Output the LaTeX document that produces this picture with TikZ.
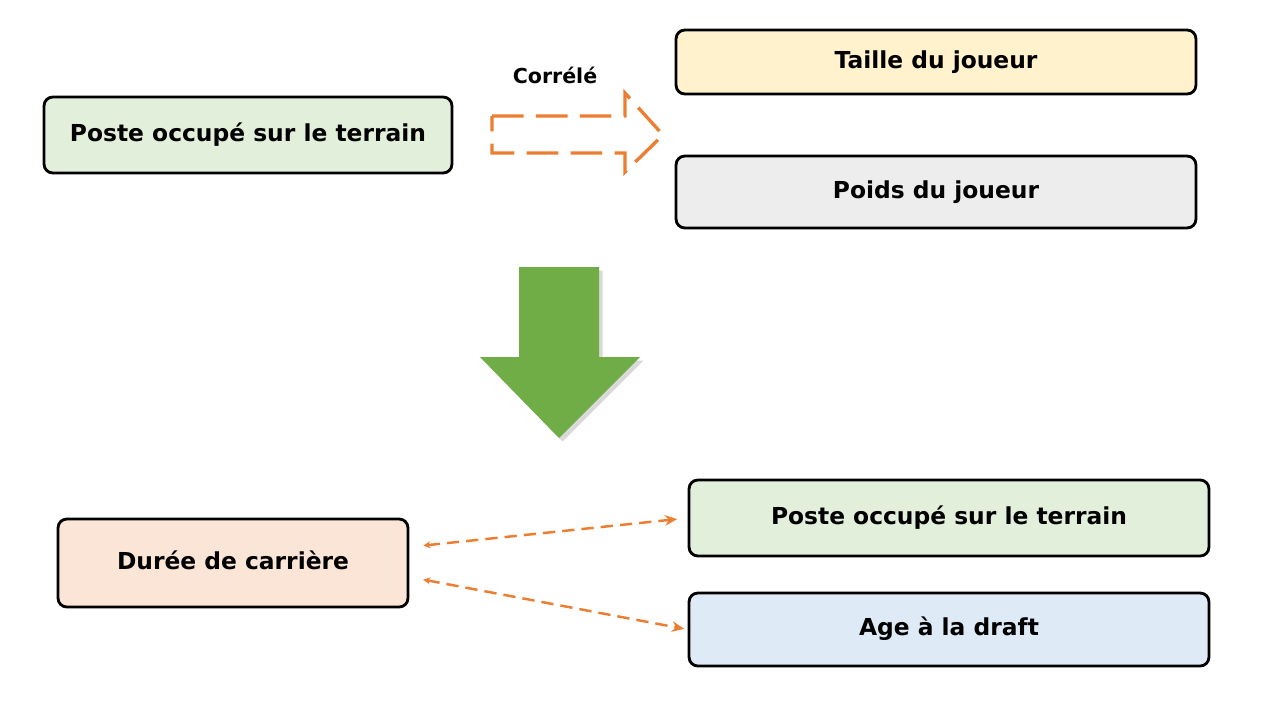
\documentclass[tikz,border=0pt]{standalone}
\usepackage{fontspec}
\setmainfont{DejaVu Sans}
\usetikzlibrary{shadows,arrows.meta}
\definecolor{vertclair}{HTML}{E2EFDA}
\definecolor{jaune}{HTML}{FFF2CC}
\definecolor{gris}{HTML}{EDEDED}
\definecolor{saumon}{HTML}{FBE5D6}
\definecolor{bleu}{HTML}{DEEBF7}
\definecolor{orange}{HTML}{ED7D31}
\definecolor{vert}{HTML}{70AD47}
\tikzset{boite/.style={draw=black, line width=1.6pt, rounded corners=5pt,
    font=\fontsize{13.3}{15}\selectfont\bfseries, inner sep=0pt,
    text height=0.73em, text depth=0pt}}

\begin{document}
\begin{tikzpicture}[x=0.02cm, y=-0.02cm]
    \useasboundingbox (0,0) rectangle (1280,720);
    \node [boite, fill=vertclair, minimum width=8.16cm, minimum height=1.52cm]
    (poste) at (248,135) {Poste occupé sur le terrain}; \node [boite,
    fill=jaune, minimum width=10.4cm, minimum height=1.28cm] (taille) at
    (936,62) {Taille du joueur}; \node [boite, fill=gris, minimum
    width=10.4cm, minimum height=1.44cm] (poids) at (936,192) {Poids du
    joueur}; \node [boite, fill=saumon, minimum width=7cm, minimum
    height=1.76cm] (duree) at (233,563) {Durée de carrière}; \node
    [boite, fill=vertclair, minimum width=10.4cm, minimum height=1.52cm]
    (poste2) at (949,518) {Poste occupé sur le terrain}; \node [boite,
    fill=bleu, minimum width=10.4cm, minimum height=1.46cm] (age) at
    (949,629.5) {Age à la draft};
    % fleche correlee
    \node [font=\fontsize{11.7}{13}\selectfont\bfseries] (correle) at
    (555,75) {Corrélé}; \draw [orange, line width=1.9pt, dash
    pattern=on 18pt off 7pt] (492,116) -- (625,116) -- (625,93) --
    (663,135) -- (625,172) -- (625,153) -- (492,153) -- cycle;
    % grande fleche
    \fill [vert, drop shadow={opacity=0.3, shadow xshift=2pt, shadow
    yshift=-2pt}] (519,267) -- (599,267) -- (599,357) -- (640,357) --
    (559,438) -- (480,357) -- (519,357) -- cycle;
    % liens
    \draw [orange, line width=1.4pt, dash pattern=on 7pt off 4pt,
    {Stealth[length=4pt,width=4pt]}-{Stealth[length=7pt,width=6pt]},
    shorten <=8pt, shorten >=6pt] ([yshift=0.32cm]duree.east)
    -- (poste2.west); \draw [orange, line width=1.4pt, dash pattern=on
    7pt off 4pt, {Stealth[length=4pt,width=4pt]}-{Stealth[length=7pt,width=6pt]},
    shorten <=8pt, shorten >=2pt] ([yshift=-0.28cm]duree.east)
    -- (age.west);
  \end{tikzpicture}
\end{document}
